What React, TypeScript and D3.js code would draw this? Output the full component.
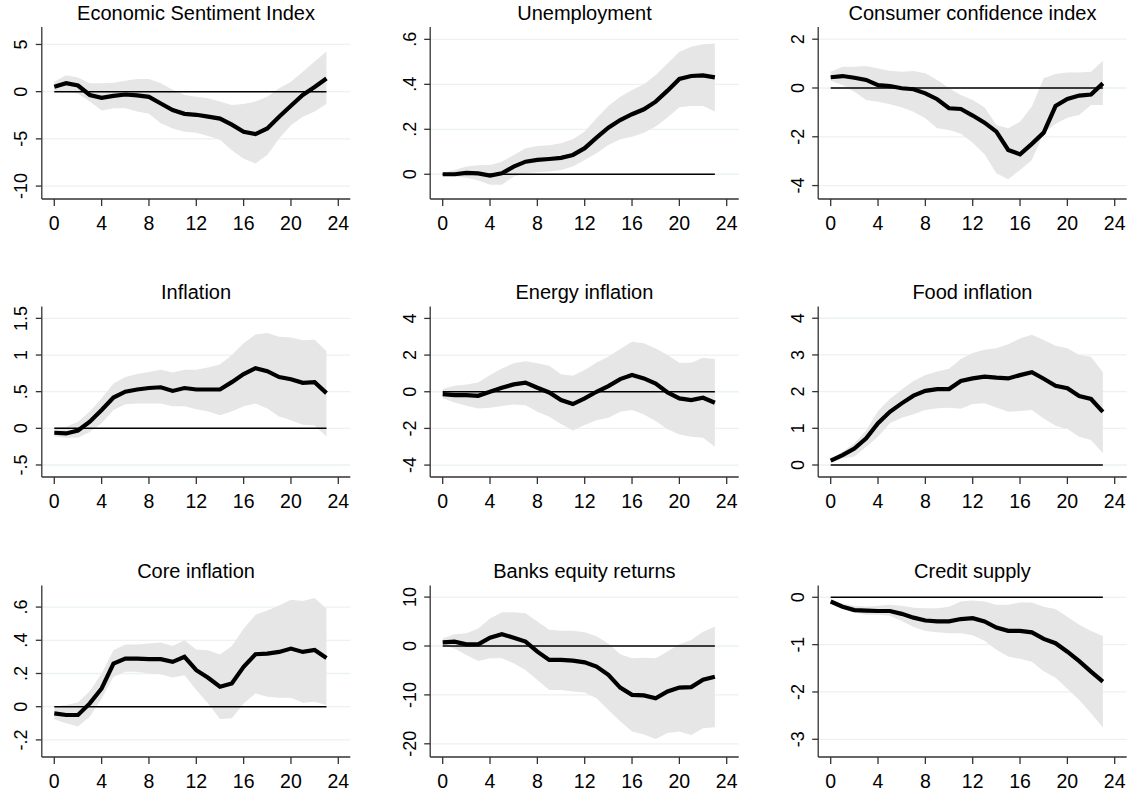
import * as d3 from "d3"

const horizons = [0, 1, 2, 3, 4, 5, 6, 7, 8, 9, 10, 11, 12, 13, 14, 15, 16, 17, 18, 19, 20, 21, 22, 23]
const xTicks = [0, 4, 8, 12, 16, 20, 24]

const titles = [
  "Economic Sentiment Index", "Unemployment", "Consumer confidence index",
  "Inflation", "Energy inflation", "Food inflation",
  "Core inflation", "Banks equity returns", "Credit supply",
]

// impulse responses (point estimate and band edges)
const esiMid = [0.53, 0.9, 0.65, -0.35, -0.65, -0.45, -0.3, -0.4, -0.55, -1.25, -1.95, -2.35, -2.45, -2.65, -2.85, -3.5, -4.25, -4.5, -3.9, -2.65, -1.5, -0.35, 0.5, 1.4]
const esiHi = [1.05, 1.75, 1.5, 0.9, 0.9, 0.95, 1.15, 1.35, 1.35, 0.9, 0.2, -0.35, -0.55, -0.7, -1.05, -1.4, -1.3, -1.05, -0.55, 0.35, 1.05, 2.1, 3.2, 4.25]
const esiLo = [0.1, 0, -0.2, -1.05, -2.0, -1.75, -1.75, -2.1, -2.35, -3.35, -3.9, -4.25, -4.35, -4.7, -5.1, -6.2, -7.1, -7.6, -6.7, -4.95, -3.55, -2.65, -2.1, -1.3]

const unempMid = [0, 0, 0.006, 0.004, -0.006, 0.004, 0.034, 0.056, 0.064, 0.068, 0.073, 0.086, 0.116, 0.163, 0.207, 0.241, 0.267, 0.289, 0.323, 0.372, 0.424, 0.437, 0.44, 0.431]
const unempHi = [0.007, 0.019, 0.034, 0.04, 0.041, 0.056, 0.086, 0.116, 0.126, 0.129, 0.138, 0.156, 0.19, 0.249, 0.304, 0.345, 0.375, 0.4, 0.441, 0.493, 0.545, 0.567, 0.578, 0.582]
const unempLo = [-0.007, -0.01, -0.015, -0.028, -0.047, -0.047, -0.01, 0.004, 0.009, 0.012, 0.019, 0.034, 0.064, 0.093, 0.13, 0.156, 0.167, 0.185, 0.212, 0.253, 0.298, 0.304, 0.304, 0.279]

const cciMid = [0.44, 0.49, 0.42, 0.33, 0.12, 0.08, -0.01, -0.05, -0.22, -0.46, -0.83, -0.86, -1.13, -1.42, -1.79, -2.54, -2.72, -2.29, -1.83, -0.74, -0.45, -0.31, -0.27, 0.19]
const cciHi = [0.67, 0.87, 0.87, 0.9, 0.8, 0.71, 0.67, 0.7, 0.6, 0.33, -0.01, -0.29, -0.49, -0.79, -1.52, -1.65, -1.38, -0.76, 0.4, 0.57, 0.64, 0.63, 0.67, 1.12]
const cciLo = [0.3, 0.12, -0.15, -0.49, -0.56, -0.67, -0.79, -0.97, -1.24, -1.65, -1.72, -1.88, -2.24, -2.72, -3.49, -3.74, -3.36, -2.95, -1.86, -1.47, -1.22, -1.11, -0.7, -0.7]

const inflMid = [-0.06, -0.07, -0.03, 0.09, 0.25, 0.42, 0.5, 0.53, 0.55, 0.56, 0.51, 0.55, 0.53, 0.53, 0.53, 0.63, 0.74, 0.82, 0.78, 0.7, 0.67, 0.62, 0.63, 0.48]
const inflHi = [0.01, 0.02, 0.09, 0.23, 0.41, 0.61, 0.7, 0.74, 0.77, 0.8, 0.76, 0.8, 0.8, 0.83, 0.87, 1.0, 1.16, 1.28, 1.3, 1.25, 1.24, 1.2, 1.21, 1.05]
const inflLo = [-0.11, -0.13, -0.13, -0.05, 0.07, 0.25, 0.33, 0.34, 0.34, 0.34, 0.3, 0.3, 0.26, 0.23, 0.18, 0.23, 0.3, 0.34, 0.27, 0.16, 0.11, 0.05, 0.04, -0.11]

const energyMid = [-0.13, -0.18, -0.18, -0.22, 0, 0.22, 0.4, 0.5, 0.22, -0.04, -0.45, -0.67, -0.36, 0, 0.31, 0.69, 0.91, 0.73, 0.45, -0.04, -0.36, -0.45, -0.33, -0.6]
const energyHi = [0.15, 0.33, 0.4, 0.51, 0.91, 1.27, 1.55, 1.67, 1.55, 1.42, 0.96, 0.87, 1.18, 1.6, 1.91, 2.33, 2.73, 2.64, 2.36, 2.0, 1.58, 1.58, 1.85, 1.78]
const energyLo = [-0.36, -0.58, -0.76, -0.91, -0.87, -0.78, -0.69, -0.73, -1.09, -1.36, -1.76, -2.11, -1.82, -1.55, -1.42, -1.09, -1.0, -1.24, -1.6, -2.04, -2.33, -2.45, -2.51, -3.0]

const foodMid = [0.12, 0.27, 0.45, 0.73, 1.14, 1.45, 1.68, 1.89, 2.02, 2.07, 2.07, 2.29, 2.36, 2.41, 2.38, 2.36, 2.45, 2.53, 2.35, 2.16, 2.09, 1.88, 1.8, 1.45]
const foodHi = [0.16, 0.36, 0.59, 0.95, 1.47, 1.8, 2.06, 2.29, 2.45, 2.55, 2.62, 2.89, 3.05, 3.14, 3.18, 3.29, 3.45, 3.55, 3.41, 3.25, 3.18, 3.0, 2.95, 2.53]
const foodLo = [0.05, 0.18, 0.23, 0.5, 0.77, 1.14, 1.29, 1.38, 1.5, 1.55, 1.56, 1.53, 1.66, 1.68, 1.57, 1.45, 1.47, 1.5, 1.27, 1.07, 0.98, 0.77, 0.68, 0.32]

const coreMid = [-0.04, -0.05, -0.05, 0.02, 0.11, 0.26, 0.29, 0.29, 0.286, 0.286, 0.27, 0.3, 0.22, 0.174, 0.12, 0.14, 0.24, 0.316, 0.32, 0.33, 0.35, 0.33, 0.342, 0.294]
const coreHi = [0, 0.01, 0.026, 0.094, 0.2, 0.34, 0.374, 0.374, 0.38, 0.386, 0.366, 0.4, 0.344, 0.34, 0.314, 0.366, 0.47, 0.554, 0.58, 0.61, 0.644, 0.636, 0.654, 0.59]
const coreLo = [-0.076, -0.1, -0.12, -0.06, 0.05, 0.18, 0.21, 0.21, 0.2, 0.196, 0.176, 0.19, 0.1, 0.02, -0.074, -0.07, 0.02, 0.08, 0.06, 0.054, 0.054, 0.024, 0.03, 0.01]

const banksMid = [0.75, 0.9, 0.35, 0.35, 1.7, 2.4, 1.7, 0.9, -1.15, -2.85, -2.85, -3.0, -3.35, -4.2, -5.9, -8.5, -10.0, -10.1, -10.7, -9.3, -8.5, -8.4, -6.9, -6.3]
const banksHi = [1.55, 2.4, 2.6, 3.6, 5.6, 6.9, 6.9, 6.7, 5.0, 3.3, 3.1, 3.1, 2.8, 2.0, 0.5, -1.7, -2.5, -2.4, -2.5, -1.15, 0.35, 1.2, 2.9, 3.95]
const banksLo = [0.2, -0.5, -1.85, -3.05, -2.5, -2.5, -3.55, -4.9, -6.95, -9.0, -9.0, -9.3, -9.5, -10.7, -13.1, -15.4, -17.5, -18.1, -19.0, -17.8, -17.5, -18.2, -16.8, -16.6]

const creditMid = [-0.09, -0.2, -0.27, -0.28, -0.29, -0.29, -0.35, -0.43, -0.49, -0.51, -0.51, -0.46, -0.44, -0.51, -0.64, -0.71, -0.71, -0.74, -0.88, -0.97, -1.15, -1.35, -1.57, -1.78]
const creditHi = [-0.06, -0.13, -0.18, -0.2, -0.18, -0.16, -0.18, -0.22, -0.23, -0.23, -0.2, -0.09, -0.07, -0.09, -0.16, -0.16, -0.11, -0.11, -0.2, -0.25, -0.41, -0.58, -0.71, -0.82]
const creditLo = [-0.13, -0.23, -0.32, -0.37, -0.37, -0.39, -0.5, -0.63, -0.71, -0.74, -0.76, -0.76, -0.8, -0.92, -1.11, -1.25, -1.3, -1.36, -1.56, -1.7, -1.93, -2.17, -2.45, -2.75]

const yTicks = [
  [5, 0, -5, -10], [0, 0.2, 0.4, 0.6], [2, 0, -2, -4],
  [-0.5, 0, 0.5, 1, 1.5], [-4, -2, 0, 2, 4], [0, 1, 2, 3, 4],
  [-0.2, 0, 0.2, 0.4, 0.6], [10, 0, -10, -20], [0, -1, -2, -3],
]
// axis range shown in each panel [bottom, top]
const yDomains = [
  [-11.37, 6.85], [-0.11, 0.655], [-4.55, 2.5],
  [-0.664, 1.662], [-4.65, 4.65], [-0.327, 4.32],
  [-0.303, 0.73], [-22.7, 12.37], [-3.374, 0.249],
]

const mids = [esiMid, unempMid, cciMid, inflMid, energyMid, foodMid, coreMid, banksMid, creditMid]
const his = [esiHi, unempHi, cciHi, inflHi, energyHi, foodHi, coreHi, banksHi, creditHi]
const los = [esiLo, unempLo, cciLo, inflLo, energyLo, foodLo, coreLo, banksLo, creditLo]

const colX0 = [54.3, 442.7, 830.7]
const rowTop = [27, 306.5, 585.5]
const rowBottom = [199, 477, 757]
const font = "'Liberation Sans', Arial, sans-serif"

const fmt = (v: number) => String(v).replace(/^(-?)0\./, "$1.")

function Panel({ i }: { i: number }) {
  const col = i % 3
  const row = Math.floor(i / 3)
  const x0 = colX0[col]
  const axisX = x0 - 12.5
  const right = x0 + 296
  const top = rowTop[row]
  const bottom = rowBottom[row]

  const x = d3.scaleLinear().domain([0, 24]).range([x0, x0 + 284])
  const y = d3.scaleLinear().domain(yDomains[i]).range([bottom, top])

  const mid = mids[i], hi = his[i], lo = los[i]
  const area = d3
    .area<number>()
    .x((d) => x(d))
    .y0((d) => y(lo[d]))
    .y1((d) => y(hi[d]))
  const line = d3
    .line<number>()
    .x((d) => x(d))
    .y((d) => y(mid[d]))

  return (
    <g>
      <text x={(axisX + right) / 2} y={top - 7.5} textAnchor="middle" fontSize={20} fontFamily={font}>
        {titles[i]}
      </text>
      {yTicks[i].map((t) => (
        <line key={"g" + t} x1={axisX} x2={right} y1={y(t)} y2={y(t)} stroke="#eaf2f4" strokeWidth={1.3} />
      ))}
      <path d={area(horizons) as string} fill="#e6e6e6" />
      <line x1={x(0)} x2={x(23)} y1={y(0)} y2={y(0)} stroke="#000" strokeWidth={1.5} />
      <path d={line(horizons) as string} fill="none" stroke="#000" strokeWidth={4.2} />
      <line x1={axisX} x2={axisX} y1={top} y2={bottom} stroke="#333" strokeWidth={1.3} />
      <line x1={axisX} x2={right} y1={bottom} y2={bottom} stroke="#333" strokeWidth={1.3} />
      {yTicks[i].map((t) => (
        <g key={"y" + t}>
          <line x1={axisX - 6} x2={axisX} y1={y(t)} y2={y(t)} stroke="#333" strokeWidth={1.3} />
          <text
            transform={`translate(${axisX - 21},${y(t)}) rotate(-90)`}
            textAnchor="middle"
            dy="0.35em"
            fontSize={18}
            fontFamily={font}
          >
            {fmt(t)}
          </text>
        </g>
      ))}
      {xTicks.map((t) => (
        <g key={"x" + t}>
          <line x1={x(t)} x2={x(t)} y1={bottom} y2={bottom + 7} stroke="#333" strokeWidth={1.3} />
          <text x={x(t)} y={bottom + 31} textAnchor="middle" fontSize={19.5} fontFamily={font}>
            {t}
          </text>
        </g>
      ))}
    </g>
  )
}

export default function App() {
  return (
    <svg
      width={1132}
      height={798}
      style={{ position: "absolute", left: 0, top: 0, background: "#fff" }}
    >
      <rect width={1132} height={798} fill="#fff" />
      {titles.map((_, i) => (
        <Panel key={i} i={i} />
      ))}
    </svg>
  )
}
